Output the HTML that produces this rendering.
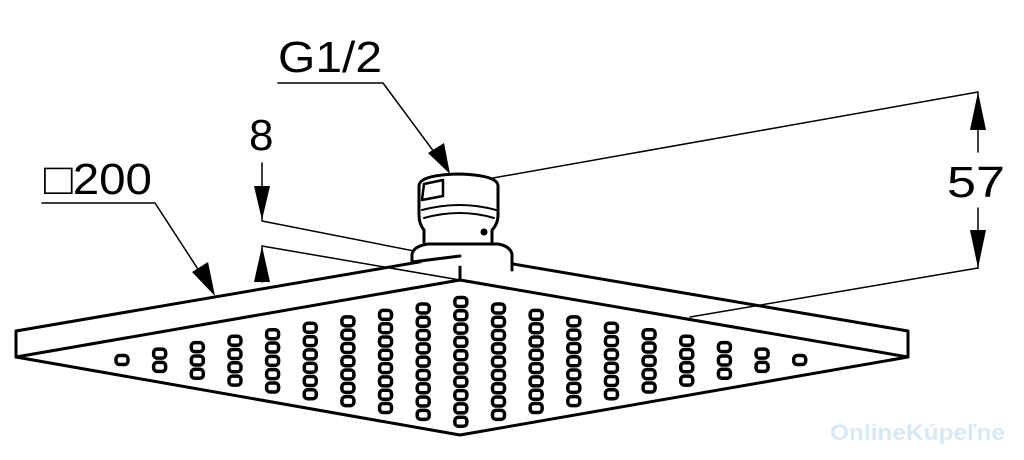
<!DOCTYPE html>
<html><head><meta charset="utf-8"><style>
html,body{margin:0;padding:0;background:#fff;width:1024px;height:460px;overflow:hidden}
text{font-family:"Liberation Sans",sans-serif;fill:#000}
</style></head><body>
<svg id="s" width="1024" height="460" viewBox="0 0 1024 460" xmlns="http://www.w3.org/2000/svg">
<g fill="none" stroke="#000" stroke-linejoin="round" stroke-linecap="round">
<g stroke-width="1.5">
<polyline points="278,83 383,83 440,160"/>
<polyline points="42,203 155,203 205,280"/>
<line x1="978" y1="92" x2="493" y2="178"/>
<line x1="978" y1="268" x2="690" y2="317"/>
<line x1="978" y1="92" x2="978" y2="152"/>
<line x1="978" y1="208" x2="978" y2="268"/>
<line x1="262" y1="163" x2="262" y2="220"/>
<line x1="262" y1="221" x2="470" y2="262"/>
<line x1="262" y1="246" x2="460" y2="280"/>
<line x1="262" y1="246" x2="262" y2="282"/>
<line x1="482" y1="180" x2="460" y2="184"/>
</g>
<g stroke-width="3">
<polyline points="16,331 460,255 908,331 908,357 460,435 16,357 16,331"/>
<polyline points="16,357 460,280 908,357"/>
<line x1="460" y1="255" x2="460" y2="280"/>
</g>
<g stroke-width="3" fill="#fff">
<path d="M412,262 L412,254 Q414,246 428,244 L498,244 Q510,246 512,254 L512,270"/>
<path d="M424,242 L424,230 Q419,224 419,215 L419,186 Q419,175 458,174 Q498,175 498,186 L498,215 Q498,224 492,230 L492,242"/>
<path d="M422,210 Q460,200 496,210" fill="none" stroke-width="2"/>
<path d="M424,218 Q460,208 494,218" fill="none" stroke-width="2"/>
<path d="M422,200 L424,184 L443,180 L443,196 Z" fill="none" stroke-width="2.5"/>
</g>
<line x1="412" y1="262" x2="460" y2="256" stroke-width="3"/>
<circle cx="484" cy="232" r="3.5" fill="#000" stroke="none"/>
<g id="noz" stroke-width="3.5"></g>
</g>
<g fill="#000">
<polygon points="450,174 428,153 444,143"/>
<polygon points="215,296 192,272 208,262"/>
<polygon points="978,92 970,130 986,130"/>
<polygon points="978,268 970,230 986,230"/>
<polygon points="262,220 254,186 270,186"/>
<polygon points="262,246 254,282 270,282"/>
</g>
<text x="278" y="72" font-size="44" textLength="104" lengthAdjust="spacingAndGlyphs">G1/2</text>
<text x="249" y="150" font-size="44">8</text>
<text x="44" y="194" font-size="44" textLength="108" lengthAdjust="spacingAndGlyphs">□200</text>
<text x="947" y="197" font-size="44" textLength="58" lengthAdjust="spacingAndGlyphs">57</text>
<text x="830" y="440" font-size="22" font-weight="bold" textLength="175" lengthAdjust="spacingAndGlyphs" style="fill:#d6e9f5">OnlineKúpeľne</text>
</svg>
<script>
var g=document.getElementById('noz'),ns='http://www.w3.org/2000/svg';
for(var i=0;i<19;i++){var k=10-Math.abs(i-9),cx=122+i*37.65,ty=302+(10-k)*6.45;
for(var j=0;j<k;j++){var r=document.createElementNS(ns,'rect');
r.setAttribute('x',cx-6);r.setAttribute('y',ty+j*13.3-4.5);r.setAttribute('width',12);r.setAttribute('height',9);r.setAttribute('rx',3.5);g.appendChild(r);}}
</script>
</body></html>
